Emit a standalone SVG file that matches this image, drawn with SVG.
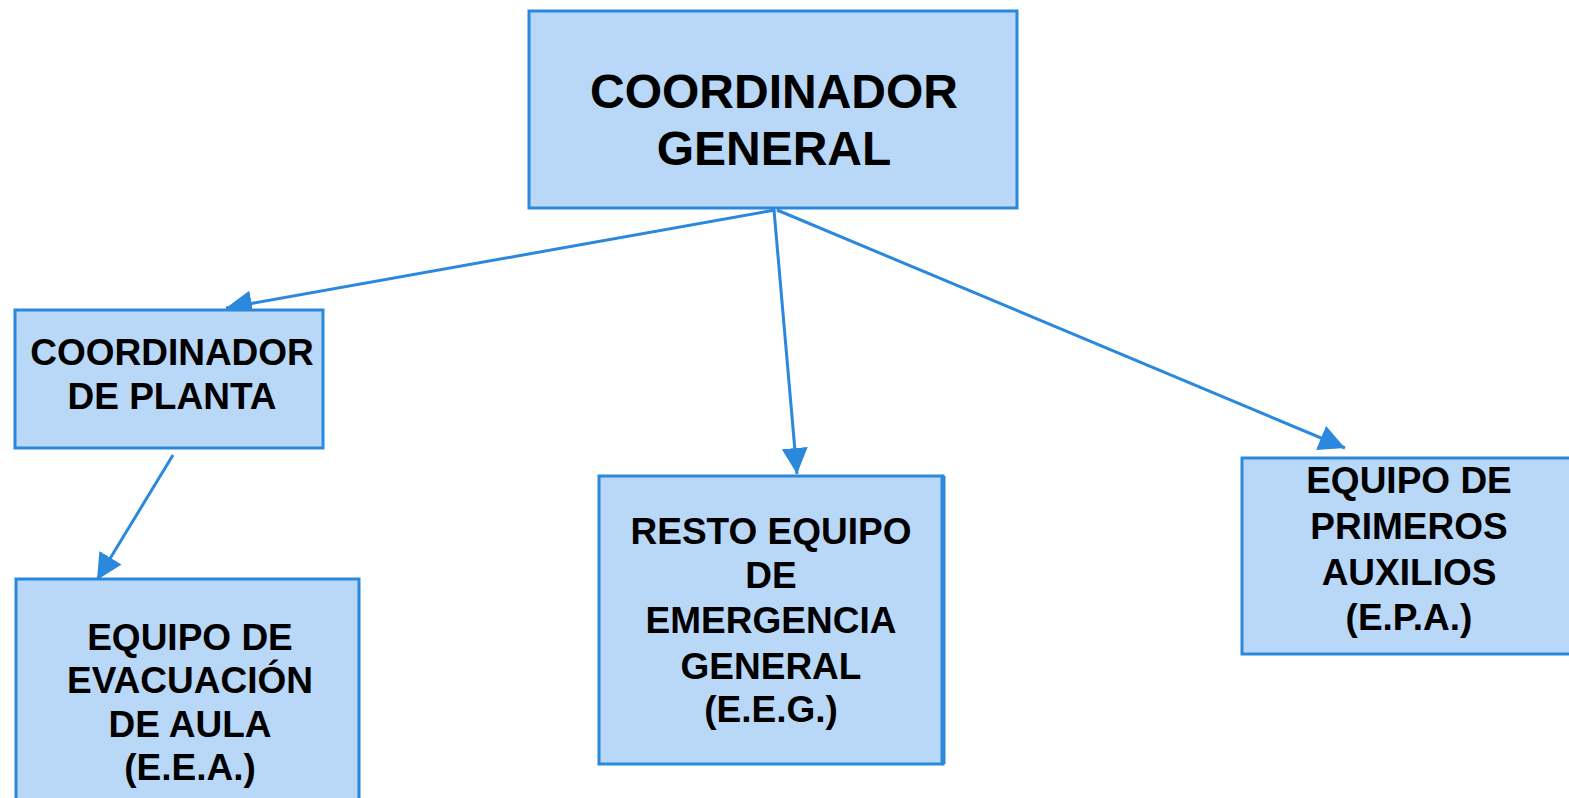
<svg xmlns="http://www.w3.org/2000/svg" width="1569" height="798" viewBox="0 0 1569 798">
<style>
.box{fill:#b9d7f6;stroke:#2a88dd;stroke-width:3}
.t{font-family:"Liberation Sans",Arial,sans-serif;font-weight:bold;fill:#000;text-anchor:middle}
.t48{font-size:48px}
.t36{font-size:37px}
.c{stroke:#2a88dd;stroke-width:3;fill:none;marker-end:url(#ah)}
</style>
<defs>
<marker id="ah" markerUnits="userSpaceOnUse" markerWidth="28" markerHeight="26" refX="26" refY="13" orient="auto">
<path d="M0,0 L26,13 L0,26 z" fill="#2a88dd"/>
</marker>
</defs>
<rect width="1569" height="798" fill="#fff"/>
<g id="connectors">
<line class="c" x1="775" y1="210" x2="226" y2="308"/>
<line class="c" x1="774" y1="210" x2="797" y2="474"/>
<line class="c" x1="777" y1="210" x2="1345" y2="448"/>
<line class="c" x1="173" y1="455" x2="97" y2="580"/>
</g>
<g id="coordinador-general">
<rect class="box" x="529" y="11" width="488" height="197"/>
<text class="t t48" x="774" y="108">COORDINADOR</text>
<text class="t t48" x="774" y="165">GENERAL</text>
</g>
<g id="coordinador-planta">
<rect class="box" x="15" y="310" width="308" height="138"/>
<text class="t t36" x="172" y="365">COORDINADOR</text>
<text class="t t36" x="172" y="409">DE PLANTA</text>
</g>
<g id="eea">
<rect class="box" x="16" y="579" width="343" height="230"/>
<text class="t t36" x="190" y="650">EQUIPO DE</text>
<text class="t t36" x="190" y="693">EVACUACIÓN</text>
<text class="t t36" x="190" y="737">DE AULA</text>
<text class="t t36" x="190" y="780">(E.E.A.)</text>
</g>
<g id="eeg">
<rect class="box" x="599" y="476" width="344" height="288"/>
<line x1="943" y1="476" x2="943" y2="764" stroke="#2a88dd" stroke-width="5"/>
<text class="t t36" x="771" y="544">RESTO EQUIPO</text>
<text class="t t36" x="771" y="588">DE</text>
<text class="t t36" x="771" y="633">EMERGENCIA</text>
<text class="t t36" x="771" y="679">GENERAL</text>
<text class="t t36" x="771" y="722">(E.E.G.)</text>
</g>
<g id="epa">
<rect class="box" x="1242" y="458" width="340" height="196"/>
<text class="t t36" x="1409" y="493">EQUIPO DE</text>
<text class="t t36" x="1409" y="539">PRIMEROS</text>
<text class="t t36" x="1409" y="585">AUXILIOS</text>
<text class="t t36" x="1409" y="630">(E.P.A.)</text>
</g>
</svg>
